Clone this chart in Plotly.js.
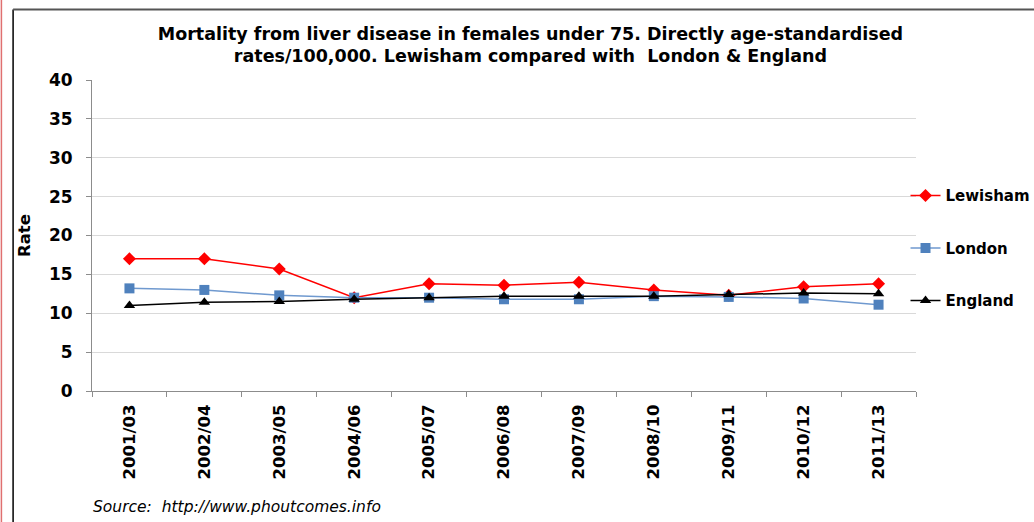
<!DOCTYPE html>
<html>
<head>
<meta charset="utf-8">
<script src="https://cdn.plot.ly/plotly-3.0.1.min.js"></script>
<style>
html,body{margin:0;padding:0;background:#fff;}
#chart{width:1034px;height:522px;}
</style>
</head>
<body>
<div id="chart"></div>
<script>
var categories = ["2001/03","2002/04","2003/05","2004/06","2005/07","2006/08","2007/09","2008/10","2009/11","2010/12","2011/13"];
var lewisham = [17.0, 17.0, 15.7, 12.0, 13.8, 13.6, 14.0, 13.0, 12.3, 13.4, 13.8];
var london   = [13.2, 13.0, 12.3, 12.0, 12.0, 11.8, 11.8, 12.2, 12.1, 11.9, 11.1];
var england  = [11.0, 11.4, 11.5, 11.8, 12.0, 12.2, 12.2, 12.2, 12.4, 12.6, 12.5];
var yTicks = [0,5,10,15,20,25,30,35,40];

var font = "DejaVu Sans, Verdana, sans-serif";

var traces = [
  {x: categories, y: lewisham, name: "Lewisham", type: "scatter", mode: "lines+markers",
   legendgroup: "a",
   line: {color: "#ff0000", width: 1.5},
   marker: {symbol: "diamond", size: 10, color: "#ff0000"}},
  {x: categories, y: london, name: "London", type: "scatter", mode: "lines+markers",
   legendgroup: "b",
   line: {color: "#6f99cf", width: 1.5},
   marker: {symbol: "square", size: 10, color: "#4f81bd"}},
  {x: categories, y: england, name: "England", type: "scatter", mode: "lines+markers",
   legendgroup: "c",
   line: {color: "#000000", width: 1.5},
   marker: {symbol: "triangle-up", size: 10, color: "#000000"}}
];

var layout = {
  width: 1034, height: 522,
  margin: {l: 91.5, r: 117.5, t: 80, b: 131, pad: 0, autoexpand: false},
  paper_bgcolor: "#ffffff", plot_bgcolor: "#ffffff",
  font: {family: font, color: "#000"},
  title: {
    text: "<b>Mortality from liver disease in females under 75. Directly age-standardised<br>rates/100,000. Lewisham compared with  London & England</b>",
    font: {family: font, size: 17.5, color: "#000"},
    x: 0.513, xanchor: "center", y: 0.924, yanchor: "middle"
  },
  xaxis: {
    type: "category",
    showgrid: false,
    showline: true, linecolor: "#8c8c8c", linewidth: 1,
    ticks: "outside", ticklen: 5, tickcolor: "#8c8c8c",
    tickson: "boundaries",
    tickangle: -90,
    tickfont: {family: font, size: 16.5, color: "#000", weight: "bold"},
    ticklabelstandoff: 6,
    range: [-0.5, 10.5],
    zeroline: false
  },
  yaxis: {
    range: [0, 40],
    tickvals: yTicks,
    ticktext: yTicks.map(String),
    showgrid: true, gridcolor: "#d9d9d9", gridwidth: 1,
    showline: true, linecolor: "#8c8c8c", linewidth: 1,
    ticks: "outside", ticklen: 5, tickcolor: "#8c8c8c",
    tickfont: {family: font, size: 17, color: "#000", weight: "bold"},
    ticklabelstandoff: 10,
    zeroline: false,
    title: {text: "<b>Rate</b>", font: {family: font, size: 16.5, color: "#000"}, standoff: 14}
  },
  legend: {
    x: (906 - 91.5) / 825, xanchor: "left", y: 0.681, yanchor: "top",
    font: {family: font, size: 15, color: "#000", weight: "bold"},
    tracegroupgap: 30, itemwidth: 30,
    bgcolor: "rgba(0,0,0,0)"
  },
  showlegend: true,
  annotations: [{
    xref: "paper", yref: "paper",
    x: (90 - 91.5) / 825, y: (391 - 507) / 311,
    xanchor: "left", yanchor: "middle",
    text: "<i>Source:  http://www.phoutcomes.info</i>",
    showarrow: false,
    font: {family: font, size: 15.5, color: "#000"}
  }],
  shapes: [
    {type: "line", xref: "paper", yref: "paper",
     x0: (12.5 - 91.5) / 825, x1: (12.5 - 91.5) / 825,
     y0: (391 - 9.5) / 311, y1: (391 - 530) / 311,
     line: {color: "#000", width: 1.5}},
    {type: "line", xref: "paper", yref: "paper",
     x0: (12.5 - 91.5) / 825, x1: (1040 - 91.5) / 825,
     y0: (391 - 9.5) / 311, y1: (391 - 9.5) / 311,
     line: {color: "#555", width: 2}},
    {type: "line", xref: "paper", yref: "paper",
     x0: (0.8 - 91.5) / 825, x1: (0.8 - 91.5) / 825,
     y0: (391 + 10) / 311, y1: (391 - 530) / 311,
     line: {color: "#e07070", width: 1.5}}
  ]
};

Plotly.newPlot("chart", traces, layout, {displayModeBar: false, staticPlot: true});
</script>
</body>
</html>
